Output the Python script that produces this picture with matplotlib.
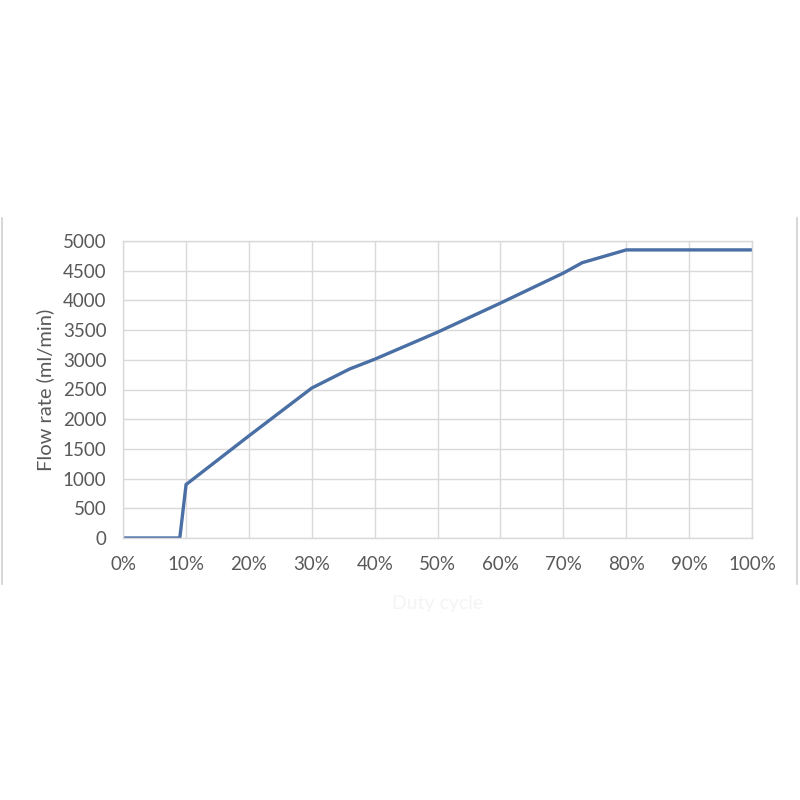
import matplotlib.pyplot as plt
from matplotlib.lines import Line2D

# Datos
duty = [0, 9, 10, 20, 30, 36, 40, 50, 60, 70, 73, 80, 100]
flow = [0, 0, 900, 1720, 2525, 2845, 3010, 3465, 3955, 4460, 4635, 4850, 4850]
xticks = list(range(0, 101, 10))
yticks = list(range(0, 5001, 500))

plt.rcParams['font.family'] = ['Lato', 'DejaVu Sans']

fig = plt.figure(figsize=(8, 8), dpi=100)
ax = fig.add_axes([0.154, 0.3275, 0.786, 0.37125])

ax.plot(duty, flow, color='#4a6fa5', linewidth=2.4, solid_joinstyle='miter')

ax.set_xlim(0, 100)
ax.set_ylim(0, 5000)
ax.set_xticks(xticks)
ax.set_xticklabels([str(t) + '%' for t in xticks])
ax.set_yticks(yticks)
ax.grid(True, color='#d9d9d9', linewidth=1)
ax.set_axisbelow(True)
for s in ax.spines.values():
    s.set_color('#d9d9d9')
    s.set_linewidth(1)

ax.tick_params(length=0, labelsize=13.5, colors='#595959', pad=13)
ax.tick_params(axis='y', pad=12)
ax.set_ylabel('Flow rate (ml/min)', fontsize=14.5, color='#595959', labelpad=6)
ax.set_xlabel('Duty cycle', fontsize=14, color='#f4f4f4', labelpad=16)

# bordes del recuadro del gráfico
fig.add_artist(Line2D([0.003, 0.003], [0.27, 0.728], color='#d0d0d0', linewidth=1.2))
fig.add_artist(Line2D([0.996, 0.996], [0.27, 0.728], color='#d0d0d0', linewidth=1.2))

plt.savefig('out.png', dpi=100)
